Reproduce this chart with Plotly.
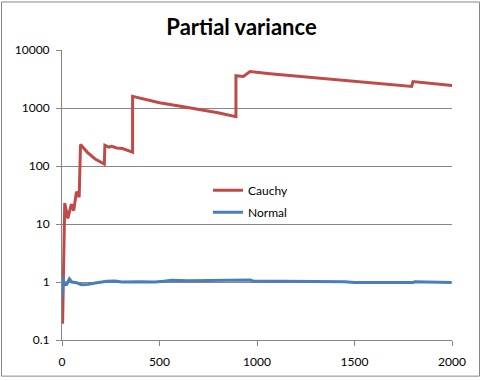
import plotly.graph_objects as go

# ---- data ----
cauchy_x = [1, 3, 14, 30, 48, 60, 74, 88, 95, 130, 170, 217, 220, 240, 255, 280, 310, 340, 362,
            362, 420, 500, 600, 700, 800, 892,
            892, 930, 964, 1067, 1200, 1300, 1400, 1500, 1600, 1700, 1793,
            1800, 1900, 2000]
cauchy_y = [1.7, 0.19, 23, 12.5, 22, 17, 36, 29, 235, 172, 132, 108, 228, 212, 218, 204, 200, 185, 174,
            1590, 1420, 1230, 1080, 950, 830, 710,
            3600, 3500, 4250, 3900, 3550, 3300, 3100, 2900, 2700, 2520, 2360,
            2850, 2650, 2450]

normal_x = [1, 3, 8, 14, 22, 38, 50, 75, 100, 135, 170, 230, 272, 306, 400, 477, 520, 563, 646,
            800, 940, 964, 980, 1200, 1450, 1500, 1800, 1810, 1900, 1998]
normal_y = [0.55, 1.25, 0.85, 1.0, 0.88, 1.13, 1.0, 0.97, 0.9, 0.91, 0.96, 1.03, 1.04, 1.0, 1.01, 1.0, 1.03, 1.07, 1.05,
            1.05, 1.05, 1.08, 1.04, 1.03, 1.01, 0.98, 0.98, 1.01, 1.0, 0.98]

x_ticks = [0, 500, 1000, 1500, 2000]
y_ticks = [0.1, 1, 10, 100, 1000, 10000]
y_labels = ["0.1", "1", "10", "100", "1000", "10000"]

title_text = "Partial variance"

FONT = "Lato, 'Open Sans', sans-serif"
GRID = "#868686"

fig = go.Figure()
fig.add_trace(go.Scatter(x=cauchy_x, y=cauchy_y, mode="lines", name="Cauchy",
                         legendgroup="c",
                         line=dict(color="#BE4B48", width=3)))
fig.add_trace(go.Scatter(x=normal_x, y=normal_y, mode="lines", name="Normal",
                         legendgroup="n",
                         line=dict(color="#4A7EBB", width=3)))

W, H = 483, 381
L, R, T, B = 62, 31, 50, 38
pw, ph = W - L - R, H - T - B

def px2paper_x(px):
    return (px - L) / pw

def py2paper_y(py):
    return (H - B - py) / ph

fig.update_layout(
    width=W, height=H,
    margin=dict(l=L, r=R, t=T, b=B),
    paper_bgcolor="white", plot_bgcolor="white",
    font=dict(family=FONT, size=12, color="#000000"),
    title=dict(text="<b>" + title_text + "</b>", x=0.5, xref="container", xanchor="center",
               y=1 - 27 / H, yref="container", yanchor="middle",
               font=dict(family=FONT, size=22, color="#000000")),
    showlegend=True,
    legend=dict(x=px2paper_x(208), y=py2paper_y(177), xanchor="left", yanchor="top",
                bgcolor="rgba(0,0,0,0)", traceorder="grouped", tracegroupgap=3,
                font=dict(family=FONT, size=12, color="#000000")),
    xaxis=dict(range=[0, 2000], tickvals=x_ticks, showgrid=False, zeroline=False,
               showline=True, linecolor=GRID, linewidth=1,
               ticks="outside", ticklen=5, tickcolor=GRID, ticklabelstandoff=6,
               tickfont=dict(family=FONT, size=12, color="#000000")),
    yaxis=dict(type="log", range=[-1, 4], tickvals=y_ticks, ticktext=y_labels,
               showgrid=True, gridcolor=GRID, gridwidth=1, zeroline=False,
               showline=True, linecolor=GRID, linewidth=1,
               ticks="outside", ticklen=5, tickcolor=GRID, ticklabelstandoff=4,
               tickfont=dict(family=FONT, size=12, color="#000000")),
    shapes=[dict(type="rect", xref="paper", yref="paper",
                 x0=px2paper_x(1.5), x1=px2paper_x(479.5),
                 y0=py2paper_y(379.5), y1=py2paper_y(1.5),
                 line=dict(color=GRID, width=1), fillcolor="rgba(0,0,0,0)", layer="below")],
)

fig.write_html("out.html", config={"displayModeBar": False},
               post_script="document.body.style.margin='0';document.body.style.padding='0';")
